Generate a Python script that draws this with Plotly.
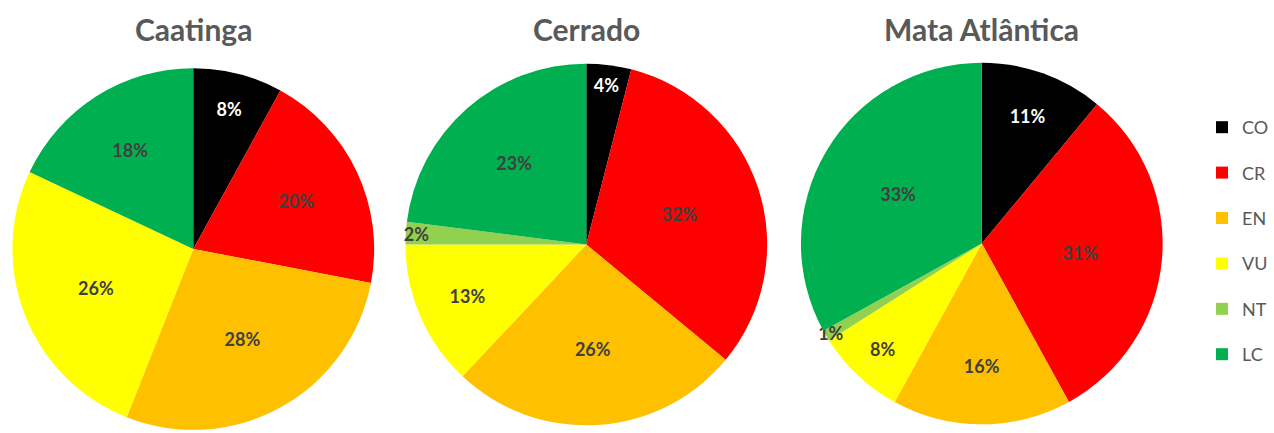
import plotly.graph_objects as go

# IUCN threat categories and their colours
categories = ["CO", "CR", "EN", "VU", "NT", "LC"]
colors = ["#000000", "#FF0000", "#FFC000", "#FFFF00", "#92D050", "#00B050"]
label_colors = ["#FFFFFF", "#404040", "#404040", "#404040", "#404040", "#404040"]

# Share of species per category (%) in each biome
biomes = ["Caatinga", "Cerrado", "Mata Atlântica"]
caatinga = [8, 20, 28, 26, 0, 18]
cerrado = [4, 32, 26, 13, 2, 23]
mata_atlantica = [11, 31, 16, 8, 1, 33]
series = [caatinga, cerrado, mata_atlantica]

W, H = 1274, 433
# pie centres and radius in pixels
centers = [(194.5, 249), (590, 244.5), (988, 243.5)]
radius = 182
title_y = 29

fig = go.Figure()

for name, vals, (cx, cy) in zip(biomes, series, centers):
    fig.add_trace(go.Pie(
        labels=categories,
        values=vals,
        text=[f"{v}%" if v > 0 else "" for v in vals],
        texttemplate="%{text}",
        textposition="inside",
        insidetextorientation="horizontal",
        textfont=dict(family="Lato", size=18, weight="bold", color=label_colors),
        marker=dict(colors=colors, line=dict(width=0)),
        sort=False,
        direction="clockwise",
        rotation=0,
        showlegend=False,
        hoverinfo="label+percent",
        name=name,
        domain=dict(
            x=[(cx - radius) / W, (cx + radius) / W],
            y=[(H - cy - radius) / H, (H - cy + radius) / H],
        ),
    ))
    fig.add_annotation(
        text=f"<b>{name}</b>",
        x=cx / W, y=1 - title_y / H, xref="paper", yref="paper",
        xanchor="center", yanchor="middle", showarrow=False,
        font=dict(family="Lato", size=30, color="#595959"),
    )

# legend entries drawn as square markers
for cat, col in zip(categories, colors):
    fig.add_trace(go.Scatter(
        x=[None], y=[None], mode="markers", name=cat,
        marker=dict(symbol="square", size=12, color=col),
        legendgroup=cat, showlegend=True,
    ))

fig.update_layout(
    width=W, height=H,
    margin=dict(l=0, r=0, t=0, b=0),
    paper_bgcolor="white", plot_bgcolor="white",
    xaxis=dict(visible=False), yaxis=dict(visible=False),
    uniformtext=dict(minsize=18, mode="show"),
    legend=dict(
        x=1210 / W, y=1 - 241 / H, xanchor="left", yanchor="middle",
        yref="paper",
        font=dict(family="Lato", size=18, color="#595959"),
        tracegroupgap=19, itemclick=False,
        bgcolor="rgba(0,0,0,0)",
    ),
)

fig.write_html("out.html")
